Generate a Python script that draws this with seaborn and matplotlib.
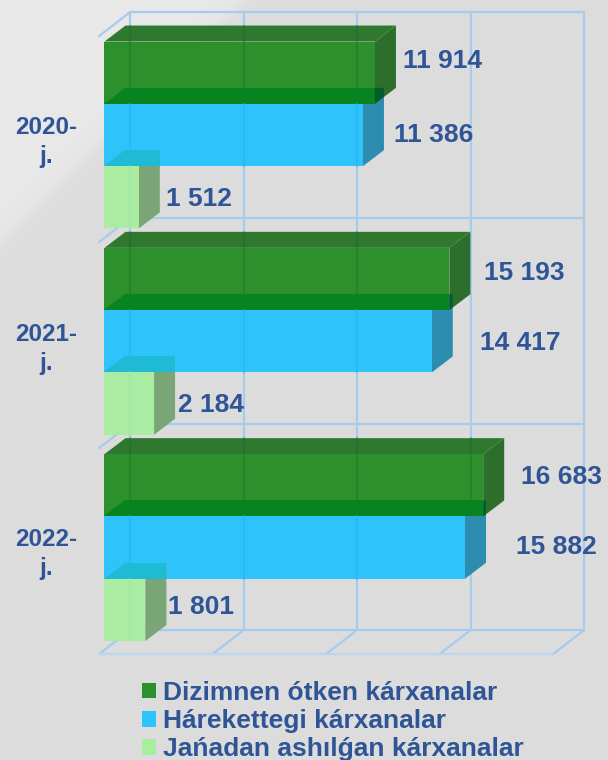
import matplotlib
matplotlib.use("Agg")
import matplotlib.pyplot as plt
from matplotlib.patches import Polygon
import seaborn as sns
import numpy as np
import pandas as pd

years = ["2020-\nj.", "2021-\nj.", "2022-\nj."]
series = ["Dizimnen ótken kárxanalar", "Hárekettegi kárxanalar", "Jańadan ashılǵan kárxanalar"]
closed_vals = [11914, 15193, 16683]
active_vals = [11386, 14417, 15882]
opened_vals = [1512, 2184, 1801]
value_labels = [["11 914", "15 193", "16 683"], ["11 386", "14 417", "15 882"], ["1 512", "2 184", "1 801"]]
grid_ticks = [0, 5000, 10000, 15000, 20000]

# colours per series: front, top, side, grid line seen through the bar
front = ["#2c912d", "#2fc3fb", "#a8ee9f"]
top = ["#2f792f", "#07841f", "#1fbbd4"]
side = ["#2d6e2d", "#2d8db0", "#7aa677"]
through = ["#17632a", "#27b2f0", "#9fe6ab"]
through_alpha = [0.3, 0.55, 0.55]
text_col = "#2f5597"
grid_col = "#a5cbee"

# px <-> data scale
SX = 0.0227
SY = 206.3
X0, Y0 = 104.5, 135.0
W, H = 608, 760


def dx(px):
    return px / SX


def dy(px):
    return px / SY


df = pd.DataFrame({
    "year": years * 3,
    "series": [s for s in series for _ in years],
    "value": closed_vals + active_vals + opened_vals,
})

sns.set_theme(style="white")
plt.rcParams["font.family"] = ["Liberation Sans", "DejaVu Sans"]

fig = plt.figure(figsize=(W / 100, H / 100), dpi=100)

# background with the soft light corner
yy, xx = np.mgrid[0:H, 0:W]
bg = 0.862 + 0.045 / (1 + np.exp((xx + yy - 243) / 7.0))
fig.figimage(bg, cmap="gray", vmin=0, vmax=1, origin="upper", zorder=-5)

ax = fig.add_axes([0, 0, 1, 1])
ax.patch.set_alpha(0)

# 3d-ish grid box behind the bars
back_x = 25.5
wall_top = -0.5955
floor = 2.4
back_ticks = [v + dx(back_x) for v in grid_ticks]
for bx in back_ticks:
    ax.plot([bx, bx], [wall_top, floor], color=grid_col, lw=1.6, zorder=1)
    ax.plot([bx, bx - dx(31)], [floor, floor + dy(24)], color=grid_col, lw=1.6, zorder=1)
for i in range(3):
    yb = wall_top + i * 0.9985
    ax.plot([dx(back_x), back_ticks[-1]], [yb, yb], color=grid_col, lw=1.6, zorder=1)
    ax.plot([dx(back_x), dx(back_x - 31)], [yb, yb + dy(24)], color=grid_col, lw=1.6, zorder=1)
ax.plot([dx(back_x), back_ticks[-1]], [floor, floor], color=grid_col, lw=1.6, zorder=1)
ax.plot([dx(back_x - 31), back_ticks[-1] - dx(31)], [floor + dy(24)] * 2, color="#b9d5f0", lw=1.6, zorder=1)

sns.barplot(data=df, x="value", y="year", hue="series", hue_order=series, order=years,
            palette=front, orient="h", width=0.906, gap=0, saturation=1,
            linewidth=0, legend=True, zorder=3, ax=ax)

# depth faces taken from each bar
ddx, ddy = dx(21), dy(16)
for k, cont in enumerate(ax.containers):
    for n, bar in enumerate(cont):
        x1 = bar.get_width()
        y0 = bar.get_y()
        y1 = y0 + bar.get_height()
        z = 3 + k * 0.3
        bar.set_zorder(z + 0.2)
        bar.set_alpha(0.93 if k == 2 else 1)
        side_pts = [(x1, y0), (x1, y1), (x1 + ddx, y1 - ddy), (x1 + ddx, y0 - ddy)]
        band_end = x1 + ddx
        if k == 0:
            top_pts = [(0, y0), (x1, y0), (x1 + ddx, y0 - ddy), (ddx, y0 - ddy)]
        else:
            # this bar's top sits on the bar above, so the upper band has one tone
            xa = ax.containers[k - 1][n].get_width()
            band_end = min(xa, x1 + ddx)
            top_pts = [(0, y0), (band_end, y0), (band_end, y0 - ddy), (ddx, y0 - ddy)]
        ax.add_patch(Polygon(side_pts, closed=True, fc=side[k], ec="none", zorder=z + 0.05))
        ax.add_patch(Polygon(top_pts, closed=True, fc=top[k], ec="none", zorder=z + 0.1))
        if k == 1 and band_end < x1 + ddx:
            # where the blue side overlaps the green side it goes darker
            t = (x1 + ddx - band_end) / ddx
            ax.add_patch(Polygon([(band_end, y0 - ddy), (x1 + ddx, y0 - ddy),
                                  (x1 + ddx, y0 - t * ddy), (band_end, y0)],
                                 closed=True, fc="#055a25", ec="none", zorder=z + 0.15))
        # grid seen through the bar
        for bx in back_ticks:
            if bx < x1:
                y_start = y0 - ddy if k == 0 else y0
                ax.plot([bx, bx], [y_start, y1], color=through[k], lw=1.6, alpha=through_alpha[k], zorder=z + 0.25)

ax.set_xlim(-X0 / SX, (W - X0) / SX)
ax.set_ylim((H - Y0) / SY, -Y0 / SY)
ax.axis("off")

# value labels, left edge and middle in px
label_x = [[403, 484, 521], [394, 480, 516], [166, 178, 168]]
label_y = [[61.5, 273.5, 476.5], [135.5, 343.5, 546.5], [199.5, 405.5, 606.5]]
for k in range(3):
    for i in range(3):
        ax.text((label_x[k][i] - X0) / SX, (label_y[k][i] - Y0) / SY, value_labels[k][i],
                color=text_col, fontsize=19, fontweight="bold", ha="left", va="center", zorder=10)

cat_y = [142, 349, 554]
for i, y in enumerate(years):
    ax.text((46 - X0) / SX, (cat_y[i] - Y0) / SY, y, color=text_col, fontsize=17.5,
            fontweight="bold", ha="center", va="center", linespacing=1.3, zorder=10)

handles, labels = ax.get_legend_handles_labels()
for h in handles:
    h.set_alpha(1)
leg = ax.legend(handles, labels, loc="upper left", bbox_to_anchor=(142 / W, 1 - 681 / H),
                frameon=False, labelcolor=text_col, prop={"weight": "bold", "size": 19},
                handlelength=0.53, handleheight=0.53, handletextpad=0.27, labelspacing=0.16,
                borderpad=0, borderaxespad=0)

plt.savefig("out.png", dpi=100)
